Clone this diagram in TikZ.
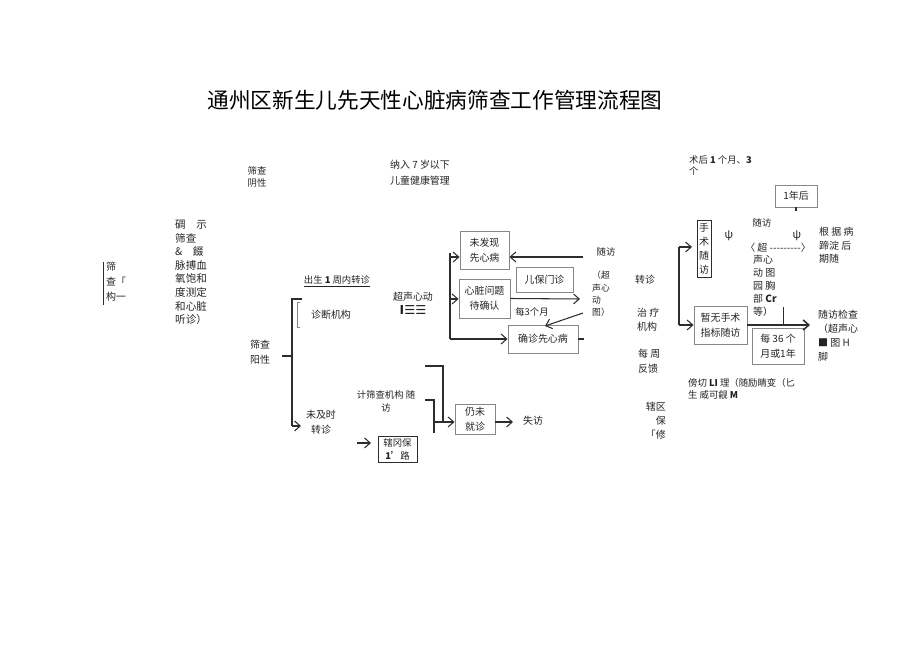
\documentclass[tikz,border=0pt]{standalone}
\usepackage{fontspec}
\setmainfont{Noto Sans CJK SC}
\newfontfamily\symfont{DejaVu Sans}
\usepackage{tikz}
\usetikzlibrary{positioning,arrows.meta}
\definecolor{inkline}{RGB}{45,45,45}
\definecolor{boxrule}{RGB}{135,135,135}
\definecolor{inktext}{RGB}{35,35,35}
\tikzset{
  lbl/.style={inner sep=0pt,align=center,text=inktext,font=\fontsize{8}{11}\selectfont},
  lbll/.style={lbl,align=left,anchor=north west},
  flowbox/.style={rectangle,draw=boxrule,line width=0.8pt,align=center,inner sep=0pt,text=inktext,font=\fontsize{8.5}{13}\selectfont},
  darkbox/.style={flowbox,draw=inkline},
  link/.style={draw=inkline,line width=0.9pt},
  edge/.style={link,-{Straight Barb[length=1.7mm,width=3mm]}}
}

\begin{document}
\begin{tikzpicture}[x=0.03cm,y=-0.03cm]
  \useasboundingbox (0,0) rectangle (920,651);
  \node[lbl,text=black,font=\fontsize{18.5}{20}\selectfont] (title) at (435,100) {通州区新生儿先天性心脏病筛查工作管理流程图};
  \node[lbl] (yinx) at (257,177) {筛查\\阴性};
  \node[lbll,font=\fontsize{8.5}{12.8}\selectfont] (gou) at (106,262) {筛\\查「\\构一};
  \draw[link] ([xshift=-2pt]gou.north west) -- ([xshift=-2pt,yshift=-3pt]gou.south west);
  \node[lbll,font=\fontsize{9}{11.6}\selectfont] (yang) at (175,220) {碉　示\\筛查\\\textit{\&}　餟\\脉搏血\\氧饱和\\度测定\\和心脏\\听诊）};
  \node[lbl,font=\fontsize{8.5}{12.7}\selectfont] (yangx) at (260,352) {筛查\\阳性};
  \node[lbl] (chus) at (337,281) {\underline{出生 \textbf{1} 周内转诊}};
  \node[lbl,font=\fontsize{8.5}{11}\selectfont] (zdjg) at (331,315) {诊断机构};
  \node[lbl,font=\fontsize{8.5}{12.7}\selectfont] (wjs) at (321,422) {未及时\\转诊};
  \node[lbl,font=\fontsize{8.5}{12}\selectfont] (csxd) at (413,303) {超声心动\\{\symfont\bfseries\fontsize{10.5}{12}\selectfont I☰☰}};
  \node[lbl,font=\fontsize{8.5}{13.6}\selectfont] (nary) at (420,173) {纳入 7 岁以下\\儿童健康管理};
  \node[flowbox,minimum width=1.47cm,minimum height=1.14cm] (wfx) at (484.5,250) {未发现\\先心病};
  \node[flowbox,minimum width=1.53cm,minimum height=1.17cm] (dqr) at (484.5,298.5) {心脏问题\\待确认};
  \node[flowbox,minimum width=1.71cm,minimum height=0.75cm] (ebmz) at (544.5,279.5) {儿保门诊};
  \node[flowbox,minimum width=2.1cm,minimum height=0.84cm] (qzxx) at (543,339) {确诊先心病};
  \node[lbl] (mei3) at (532,312) {每3个月};
  \node[lbl] (sfa) at (606,252) {随访};
  \node[lbll,font=\fontsize{7.5}{10.5}\selectfont] (cxdt) at (592,271) {（超\\声心\\动\\图）};
  \node[lbl,font=\fontsize{8}{11}\selectfont] (jscj) at (386,401) {计筛查机构 随\\访};
  \node[flowbox,minimum width=1.2cm,minimum height=0.9cm] (rwjz) at (475,419) {仍未\\就诊};
  \node[lbl,font=\fontsize{8.5}{11}\selectfont] (shif) at (533,421) {失访};
  \node[darkbox,minimum width=1.17cm,minimum height=0.78cm,font=\fontsize{8}{11}\selectfont] (xgb) at (397.5,449) {辖冈保\\\textbf{1'}路};
  \node[lbl,font=\fontsize{8.5}{11}\selectfont] (zzr) at (645,280) {转诊};
  \node[lbll,font=\fontsize{8.5}{12}\selectfont] (zljg) at (637,308) {治\ 疗\\机构};
  \node[lbll,font=\fontsize{8.5}{12.7}\selectfont] (mzfk) at (638,349) {每\ 周\\反馈};
  \node[lbl,align=right,anchor=north east,font=\fontsize{8.5}{12}\selectfont] (xqb) at (666,402) {辖区\\保\\「修};
  \node[lbll,font=\fontsize{8}{9.5}\selectfont] (shy) at (689,155) {术后 \textbf{1} 个月、\textbf{3}\\个};
  \node[flowbox,minimum width=1.26cm,minimum height=0.66cm] (ynh) at (796,196) {1年后};
  \node[darkbox,minimum width=0.42cm,minimum height=1.71cm,font=\fontsize{8.5}{12}\selectfont] (sssf) at (704,248.5) {手\\术\\随\\访};
  \node[lbl,font=\fontsize{9.5}{11}\selectfont] (psia) at (729,236) {ψ};
  \node[lbl,font=\fontsize{9.5}{11}\selectfont] (psib) at (797,236) {ψ};
  \node[lbl] (sfb) at (762,223) {随访};
  \node[lbl,font=\fontsize{8.5}{11}\selectfont] (chaob) at (778,248) {〈 超 {-}{-}{-}{-}{-}{-}{-}{-}{-}〉};
  \node[lbll,font=\fontsize{8.5}{11}\selectfont] (sxdt) at (753,255) {声心\\动\ 图\\园\ 胸\\部 \textbf{Cr}\\等）};
  \node[lbll,font=\fontsize{8.5}{11.5}\selectfont] (gjb) at (819,227) {根 据 病\\蹄淀 后\\期随};
  \node[flowbox,minimum width=1.59cm,minimum height=1.14cm] (zwss) at (720.5,325) {暂无手术\\指标随访};
  \node[flowbox,minimum width=1.56cm,minimum height=1.08cm] (m36) at (778,346) {每 36 个\\月或1年};
  \node[lbll,font=\fontsize{8.5}{11.8}\selectfont] (sfjc) at (818,310) {随访检查\\（超声心\\■\ 图\ H\\脚};
  \node[lbll,font=\fontsize{8}{10.5}\selectfont] (bqq) at (688,378) {傍切 \textbf{LI} 理（随励睛变（匕\\生 威可觎 \textbf{M}};
  \coordinate (t0) at (450,253);
  \coordinate (ta) at (450,257);
  \coordinate (tb) at (450,299);
  \coordinate (tc) at (450,339);
  \draw[link] (t0) -- (tc);
  \draw[edge] (ta) -- (ta -| wfx.west);
  \draw[edge] (tb) -- (tb -| dqr.west);
  \draw[edge] (tc) -- (qzxx.west);
  \coordinate (ra) at (583,257);
  \coordinate (rb) at (580,299);
  \coordinate (rc) at (583,313);
  \coordinate (rd) at (545,326);
  \draw[edge] (ra) -- (ra -| wfx.east);
  \draw[edge] (dqr.east) -- (rb);
  \draw[edge] (rc) -- (rd);
  \draw[link] (qzxx.east) -- ++(6,0);
  \coordinate (la) at (282,356);
  \coordinate (lb) at (292,356);
  \coordinate (lt) at (302,299);
  \coordinate (lbot) at (292,426);
  \draw[link] (la) -- (lb);
  \draw[link] (lt) -| (lbot);
  \draw[edge] (lbot) -- ++(9,0);
  \draw[boxrule,line width=0.6pt] (300,302) -| (297,327) -- (300,327);
  \coordinate (ma) at (425,366);
  \coordinate (mb) at (443,422);
  \coordinate (mc) at (425,400);
  \coordinate (md) at (434,433);
  \coordinate (me) at (434,422);
  \coordinate (mf) at (513,422);
  \draw[link] (ma) -| (mb);
  \draw[link] (mc) -| (md);
  \draw[edge] (me) -- (me -| rwjz.west);
  \draw[edge] (mf -| rwjz.east) -- (mf);
  \coordinate (xa) at (357,443);
  \draw[edge] (xa) -- ++(14,0);
  \coordinate (sa) at (679,247);
  \coordinate (sb) at (679,325);
  \coordinate (sc) at (810,325);
  \coordinate (sd) at (783,307);
  \draw[link] (sa) -- (sb);
  \draw[edge] (sa) -- ++(13,0);
  \draw[edge] (sb) -- (zwss.west);
  \draw[edge,line width=1.3pt] (zwss.east) -- (sc);
  \draw[link,line width=0.6pt] (sd) -- (sd |- sc);
  \draw[link] (ynh.south) -- ++(0,4);
\end{tikzpicture}
\end{document}
